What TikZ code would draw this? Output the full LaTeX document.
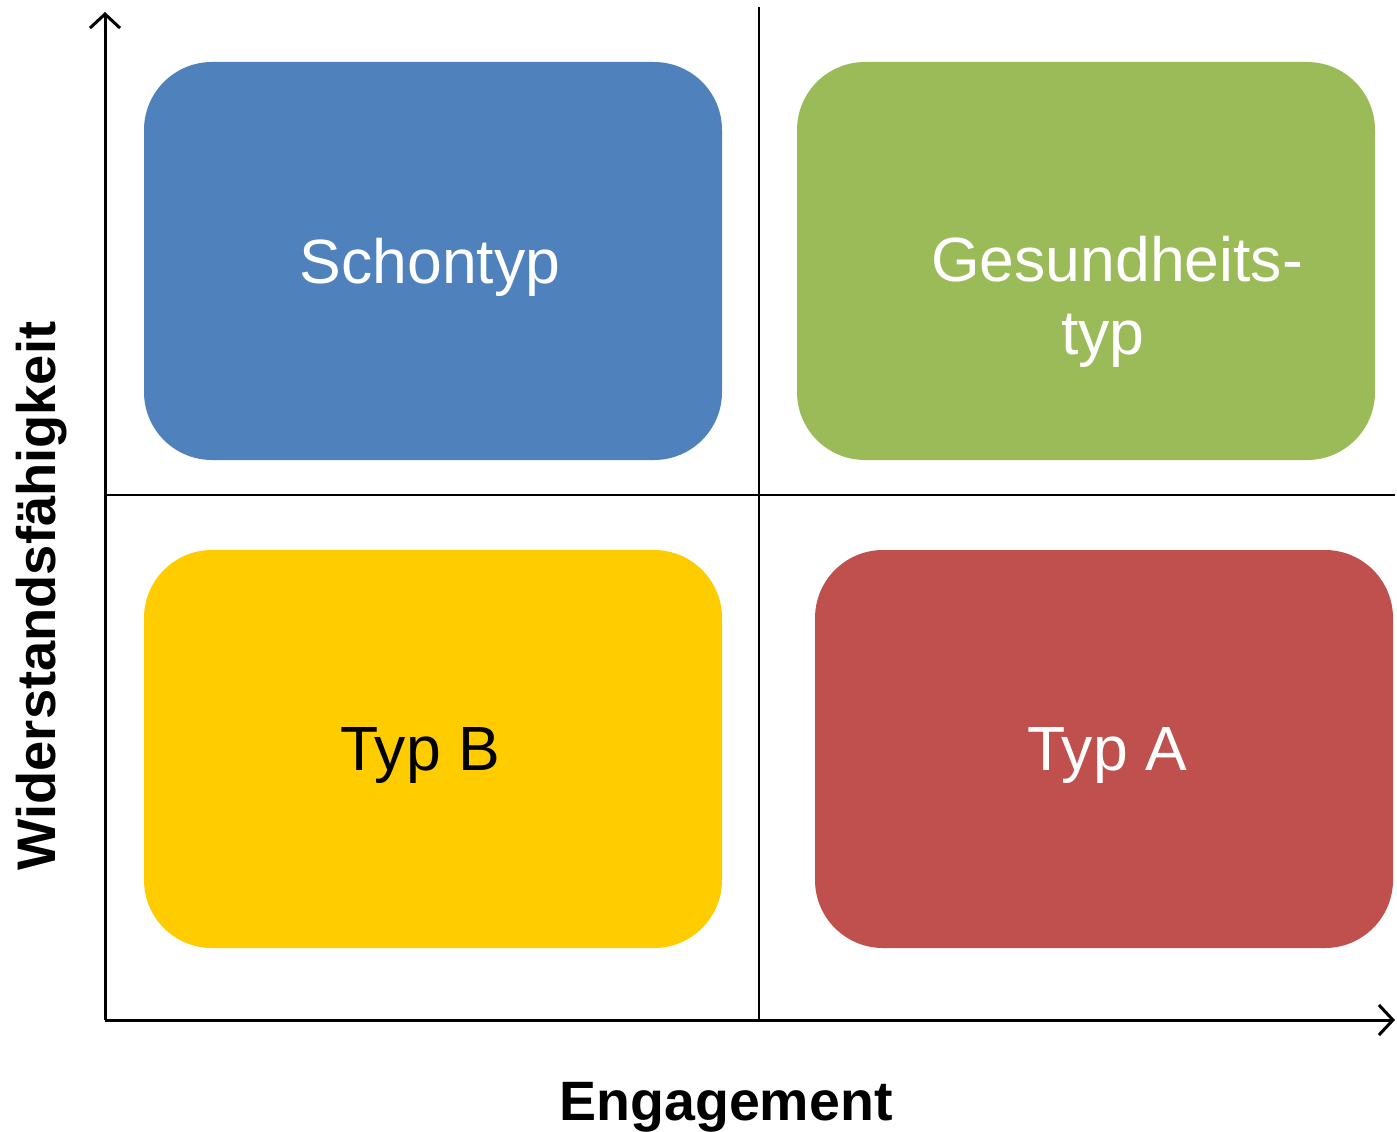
\documentclass[tikz,border=0pt]{standalone}
\usepackage{fontspec}
\setmainfont{Liberation Sans}
\usetikzlibrary{arrows.meta}
\definecolor{cblue}{HTML}{4F81BD}
\definecolor{cgreen}{HTML}{9BBB59}
\definecolor{cyellow}{HTML}{FFCC00}
\definecolor{cred}{HTML}{C0504D}
\begin{document}
\begin{tikzpicture}[x=1pt,y=-1pt,
  axis/.style={line width=3pt,-{Straight Barb[length=14pt,width=30pt,line width=3pt]}},
  divider/.style={line width=2.5pt},
  quad/.style={rounded corners=68pt,draw=none},
  qlabel/.style={font=\fontsize{62.5}{73}\selectfont,align=center},
  axlabel/.style={font=\bfseries\fontsize{55.5}{60}\selectfont}]
\useasboundingbox (0,0) rectangle (1397,1132);
\coordinate (o) at (105,1020);
\coordinate (ytop) at (105,12);
\coordinate (xend) at (1395,1020);
\coordinate (vt) at (759,7);
\coordinate (vb) at (759,1020);
\coordinate (hl) at (105,495);
\coordinate (hr) at (1395,495);
\fill[cblue,quad] (144,62) rectangle (722,460);
\fill[cgreen,quad] (797,62) rectangle (1375,460);
\fill[cyellow,quad] (144,550) rectangle (722,948);
\fill[cred,quad] (815,550) rectangle (1393,948);
\node[qlabel,text=white] (schon) at (430,267) {Schontyp};
\node[qlabel,text=white] (ges) at (1117,302) {Gesundheits-\\typ\hspace*{28pt}};
\node[qlabel,text=black] (typb) at (420,755) {Typ B};
\node[qlabel,text=white] (typa) at (1107,755) {Typ A};
\draw[divider] (vt) -- (vb);
\draw[divider] (hl) -- (hr);
\draw[axis] (o) -- (ytop);
\draw[axis] (o) -- (xend);
\node[axlabel] (xl) at (726,1107) {Engagement};
\node[axlabel,font=\bfseries\fontsize{54.3}{60}\selectfont,rotate=90] (yl) at (42,596) {Widerstandsfähigkeit};
\end{tikzpicture}
\end{document}
